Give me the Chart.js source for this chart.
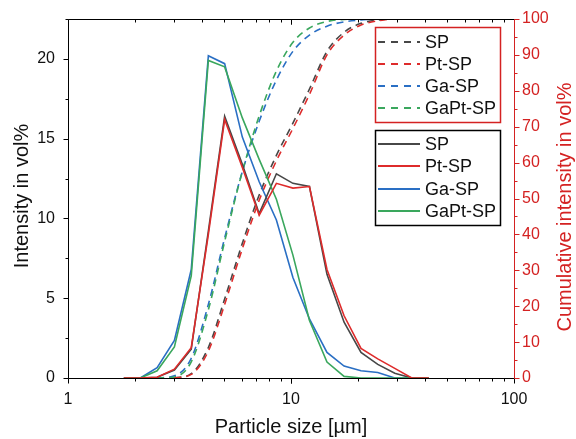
<!DOCTYPE html>
<html><head><meta charset="utf-8">
<script src="https://cdn.jsdelivr.net/npm/chart.js@4/dist/chart.umd.min.js"></script>
<style>html,body{margin:0;padding:0;background:#fff;}#wrap{width:576px;height:439px;}</style>
</head><body><div id="wrap"><canvas id="c" width="576" height="439"></canvas></div>
<script>
// Particle size classes [µm]
const sizes = [1.78, 2.11, 2.51, 3.0, 3.57, 4.26, 5.04, 6.05, 7.2, 8.6, 10.2, 12.1, 14.5, 17.3, 20.6, 24.5, 29.2, 34.8, 41.5];
const seriesNames = ["SP", "Pt-SP", "Ga-SP", "GaPt-SP"];
// Density (left axis, vol%)
const densSP     = [0, 0, 0.05, 0.5, 1.8, 9.2, 16.4, 13.4, 10.3, 12.8, 12.2, 12.0, 6.5, 3.5, 1.6, 0.85, 0.3, 0, 0];
const densPtSP   = [0, 0, 0.05, 0.55, 1.9, 9.0, 16.2, 13.2, 10.2, 12.2, 11.9, 12.0, 6.8, 3.9, 1.86, 1.2, 0.6, 0, 0];
const densGaSP   = [0, 0, 0.65, 2.35, 6.8, 20.2, 19.7, 15.1, 12.3, 9.9, 6.3, 3.7, 1.6, 0.75, 0.45, 0.35, 0, 0, 0];
const densGaPtSP = [0, 0, 0.45, 1.95, 6.4, 19.9, 19.5, 16.3, 13.7, 11.2, 7.7, 3.6, 1.0, 0.1, 0, 0, 0, 0, 0];
// Cumulative (right axis, vol%)
const cumSP     = [null, null, null, 0, 1.2, 8.5, 22, 37.5, 51, 62, 71, 80.5, 91, 96.3, 98.8, 99.7, 100, 100, null];
const cumPtSP   = [null, null, null, 0, 1.0, 7.5, 20.5, 36, 49.5, 60.5, 69.5, 79, 90, 95.5, 98.3, 99.5, 100, 100, null];
const cumGaSP   = [null, null, 0, 0.6, 5.5, 20.5, 39, 57.5, 71.5, 83, 91, 95.5, 98, 99.2, 99.7, 100, 100, null, null];
const cumGaPtSP = [null, null, 0, 0.3, 4.5, 19, 38, 57.5, 73, 85.5, 93.5, 97.5, 99.3, 99.9, 100, 100, null, null, null];
// Axis ticks
const xLabels = [1, 10, 100];
const yLeftLabels = [0, 5, 10, 15, 20];
const yRightLabels = [0, 10, 20, 30, 40, 50, 60, 70, 80, 90, 100];

const colors = ["#474747", "#de2b2b", "#2a6fc4", "#3aa75d"];
const FONT = '"Liberation Sans", Arial, sans-serif';
const AXRED = "#d42222";

const pts = arr => sizes.map((s, i) => ({x: s, y: arr[i]})).filter(p => p.y !== null);
const dens = [densSP, densPtSP, densGaSP, densGaPtSP];
const cums = [cumSP, cumPtSP, cumGaSP, cumGaPtSP];
const drawOrder = [3, 1, 4, 2];
const datasets = [];
cums.forEach((c, i) => datasets.push({
  label: seriesNames[i] + " cum", data: pts(c), yAxisID: "y2", borderColor: colors[i],
  borderWidth: 1.6, borderDash: [7, 5], pointRadius: 0, cubicInterpolationMode: "monotone",
  fill: false, order: 10 + drawOrder[i], kind: "cum"
}));
dens.forEach((d, i) => datasets.push({
  label: seriesNames[i], data: pts(d), yAxisID: "y", borderColor: colors[i],
  borderWidth: 1.6, pointRadius: 0, tension: 0, fill: false, order: drawOrder[i], kind: "dens"
}));

const decor = {
  id: "decor",
  afterDraw(chart) {
    const ctx = chart.ctx, a = chart.chartArea;
    const xs = chart.scales.x, yl = chart.scales.y, yr = chart.scales.y2;
    const r = v => Math.round(v) + 0.5;
    ctx.save();
    ctx.lineWidth = 1;
    // frame
    ctx.strokeStyle = "#000";
    ctx.beginPath();
    ctx.moveTo(r(a.left), r(a.top)); ctx.lineTo(r(a.right), r(a.top));
    ctx.moveTo(r(a.left), r(a.top)); ctx.lineTo(r(a.left), r(a.bottom));
    ctx.moveTo(r(a.left), r(a.bottom)); ctx.lineTo(r(a.right), r(a.bottom));
    ctx.stroke();
    // x ticks (bottom outward, top inward)
    ctx.beginPath();
    for (const dec of [1, 10]) for (let m = 1; m <= 10; m++) {
      const v = m * dec; const px = r(xs.getPixelForValue(v));
      const L = (m === 1 || m === 10) ? 5 : 3;
      ctx.moveTo(px, r(a.bottom)); ctx.lineTo(px, r(a.bottom) + L);
      ctx.moveTo(px, r(a.top)); ctx.lineTo(px, r(a.top) + L);
    }
    // left ticks
    for (let v = 0; v <= 22.5; v += 2.5) {
      const py = r(yl.getPixelForValue(v)); const L = (v % 5 === 0) ? 5 : 3;
      ctx.moveTo(r(a.left), py); ctx.lineTo(r(a.left) - L, py);
    }
    ctx.stroke();
    // right axis red
    ctx.strokeStyle = AXRED;
    ctx.beginPath();
    ctx.moveTo(r(a.right), r(a.top)); ctx.lineTo(r(a.right), r(a.bottom));
    for (let v = 0; v <= 100; v += 5) {
      const py = r(yr.getPixelForValue(v)); const L = (v % 10 === 0) ? 5 : 3;
      ctx.moveTo(r(a.right), py); ctx.lineTo(r(a.right) + L, py);
    }
    ctx.stroke();
    // axis titles
    ctx.font = "20px " + FONT;
    ctx.fillStyle = "#111";
    ctx.textAlign = "center"; ctx.textBaseline = "middle";
    ctx.fillText("Particle size [µm]", (a.left + a.right) / 2, 427);
    ctx.save(); ctx.translate(22, 196); ctx.rotate(-Math.PI / 2);
    ctx.fillText("Intensity in vol%", 0, 0); ctx.restore();
    ctx.save(); ctx.translate(565, 207); ctx.rotate(-Math.PI / 2);
    ctx.fillStyle = AXRED; ctx.fillText("Cumulative intensity in vol%", 0, 0); ctx.restore();
    // legends
    const boxes = [
      {x: 375, y: 27, w: 125, h: 95, color: AXRED, kind: "cum", ys: [42, 64, 86, 108]},
      {x: 375, y: 130, w: 125, h: 95, color: "#000", kind: "dens", ys: [144, 166, 189, 211]}
    ];
    ctx.font = "18px " + FONT;
    ctx.textAlign = "left";
    for (const b of boxes) {
      ctx.fillStyle = "#fff"; ctx.fillRect(b.x, b.y, b.w, b.h);
      ctx.lineWidth = 1.5; ctx.strokeStyle = b.color; ctx.setLineDash([]);
      ctx.strokeRect(b.x + 0.5, b.y + 0.5, b.w, b.h);
      const dsets = chart.data.datasets.filter(d => d.kind === b.kind);
      dsets.forEach((d, i) => {
        const y = b.ys[i];
        ctx.strokeStyle = d.borderColor; ctx.lineWidth = 2;
        ctx.setLineDash(b.kind === "cum" ? [7, 6] : []);
        ctx.beginPath(); ctx.moveTo(b.x + 3, y); ctx.lineTo(b.x + 45, y); ctx.stroke();
        ctx.setLineDash([]);
        ctx.fillStyle = "#111";
        ctx.fillText(seriesNames[i], b.x + 50, y + 1);
      });
    }
    ctx.restore();
  }
};

new Chart(document.getElementById("c"), {
  type: "line",
  data: {datasets},
  options: {
    responsive: false, animation: false, devicePixelRatio: 1,
    layout: {padding: {top: 19, left: 0, right: 0, bottom: 0}},
    plugins: {legend: {display: false}, tooltip: {enabled: false}},
    scales: {
      x: {
        type: "logarithmic", min: 1, max: 100, position: "bottom",
        grid: {display: false}, border: {display: false},
        afterBuildTicks: s => { s.ticks = xLabels.map(v => ({value: v})); },
        ticks: {autoSkip: false, maxRotation: 0, padding: 4, color: "#111", font: {family: FONT, size: 16},
          callback: v => String(v)},
        afterFit: s => { s.height = 61; }
      },
      y: {
        type: "linear", position: "left", min: 0, max: 22.5,
        grid: {display: false}, border: {display: false},
        afterBuildTicks: s => { s.ticks = yLeftLabels.map(v => ({value: v})); },
        ticks: {padding: 5, color: "#111", font: {family: FONT, size: 16}, callback: v => String(v)},
        afterFit: s => { s.width = 68; }
      },
      y2: {
        type: "linear", position: "right", min: 0, max: 100,
        grid: {display: false}, border: {display: false},
        afterBuildTicks: s => { s.ticks = yRightLabels.map(v => ({value: v})); },
        ticks: {padding: 0, color: AXRED, font: {family: FONT, size: 16}, callback: v => String(v)},
        afterFit: s => { s.width = 62; }
      }
    }
  },
  plugins: [decor]
});
</script>
</body></html>
